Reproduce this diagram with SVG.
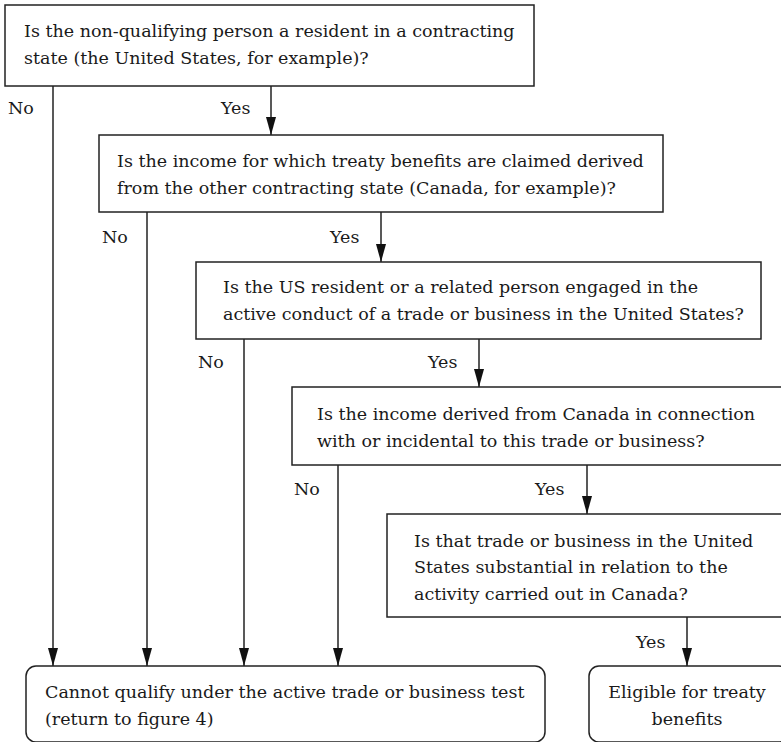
<svg xmlns="http://www.w3.org/2000/svg" width="781" height="742" viewBox="0 0 781 742">
  <defs>
    <marker id="arrow" markerWidth="18" markerHeight="10" refX="18" refY="5" orient="auto" markerUnits="userSpaceOnUse" viewBox="0 0 18 10">
      <path d="M0,0 L18,5 L0,10 Z" fill="#111"/>
    </marker>
    <style>
      text { font-family: 'DejaVu Serif', 'Liberation Serif', serif; font-size: 17.5px; fill: #1a1a1a; }
      .box { fill: #fff; stroke: #222; stroke-width: 1.5; }
      .end { fill: #fff; stroke: #222; stroke-width: 1.5; }
      .link { fill: none; stroke: #222; stroke-width: 1.5; }
      .arrow { marker-end: url(#arrow); }
      .mid { text-anchor: middle; }
    </style>
  </defs>
  <rect width="781" height="742" fill="#fff"/>

  <!-- connectors -->
  <g id="connectors">
    <line class="link arrow" x1="53" y1="86" x2="53" y2="666"/>
    <line class="link arrow" x1="271" y1="86" x2="271" y2="135"/>
    <line class="link arrow" x1="147" y1="212" x2="147" y2="666"/>
    <line class="link arrow" x1="381" y1="212" x2="381" y2="262"/>
    <line class="link arrow" x1="244" y1="339" x2="244" y2="666"/>
    <line class="link arrow" x1="479" y1="339" x2="479" y2="387"/>
    <line class="link arrow" x1="338" y1="465" x2="338" y2="666"/>
    <line class="link arrow" x1="587" y1="465" x2="587" y2="514"/>
    <line class="link arrow" x1="687" y1="617" x2="687" y2="666"/>
    <text x="8" y="114">No</text>
    <text x="221" y="114">Yes</text>
    <text x="102" y="243">No</text>
    <text x="330" y="243">Yes</text>
    <text x="198" y="368">No</text>
    <text x="428" y="368">Yes</text>
    <text x="294" y="495">No</text>
    <text x="535" y="495">Yes</text>
    <text x="636" y="648">Yes</text>
  </g>

  <g id="q1">
    <rect class="box" x="5" y="5" width="529" height="81"/>
    <text x="24" y="37">Is the non-qualifying person a resident in a contracting</text>
    <text x="24" y="64">state (the United States, for example)?</text>
  </g>

  <g id="q2">
    <rect class="box" x="99" y="135" width="564" height="77"/>
    <text x="117" y="167">Is the income for which treaty benefits are claimed derived</text>
    <text x="117" y="194">from the other contracting state (Canada, for example)?</text>
  </g>

  <g id="q3">
    <rect class="box" x="196" y="262" width="565" height="77"/>
    <text x="223" y="293">Is the US resident or a related person engaged in the</text>
    <text x="223" y="320">active conduct of a trade or business in the United States?</text>
  </g>

  <g id="q4">
    <rect class="box" x="292" y="387" width="495" height="78"/>
    <text x="317" y="420">Is the income derived from Canada in connection</text>
    <text x="317" y="447">with or incidental to this trade or business?</text>
  </g>

  <g id="q5">
    <rect class="box" x="387" y="514" width="400" height="103"/>
    <text x="414" y="547">Is that trade or business in the United</text>
    <text x="414" y="573">States substantial in relation to the</text>
    <text x="414" y="600">activity carried out in Canada?</text>
  </g>

  <g id="fail">
    <rect class="end" x="26" y="666" width="519" height="76" rx="10" ry="10"/>
    <text x="45" y="698">Cannot qualify under the active trade or business test</text>
    <text x="45" y="725">(return to figure 4)</text>
  </g>

  <g id="eligible">
    <rect class="end" x="589" y="666" width="200" height="76" rx="10" ry="10"/>
    <text class="mid" x="687" y="698">Eligible for treaty</text>
    <text class="mid" x="687" y="725">benefits</text>
  </g>
</svg>
